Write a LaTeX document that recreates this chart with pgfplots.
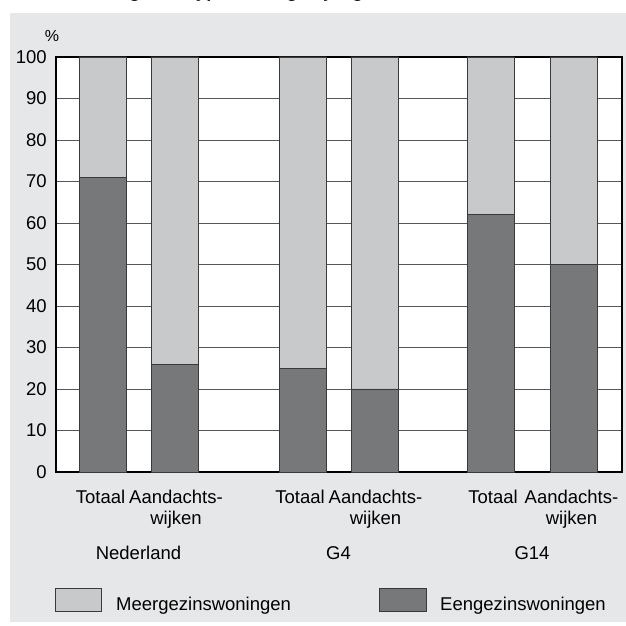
\documentclass[border=0pt]{standalone}
\usepackage{fontspec}
\setmainfont{Liberation Sans}
\usepackage{pgfplots}
\pgfplotsset{compat=1.18}
\definecolor{panel}{HTML}{E6E7E8}
\definecolor{licht}{HTML}{C8C9CB}
\definecolor{donker}{HTML}{77787A}
\definecolor{rand}{HTML}{3A3A3A}
\begin{document}
\fontsize{18.5bp}{21bp}\selectfont
\begin{tikzpicture}
\path[use as bounding box] (0bp,0bp) rectangle (626bp,626bp);
\fill[white] (0bp,0bp) rectangle (626bp,626bp);
\fill[panel] (10bp,4bp) rectangle (626bp,613bp);
% title, cut off at top of the picture
\begin{scope}
\clip (0bp,0bp) rectangle (626bp,626bp);
\node[anchor=base west,inner sep=0pt,font=\bfseries] at (57bp,628bp) {Verdeling naar type woning, bij regio};
\end{scope}
\begin{axis}[
    at={(56bp,154bp)}, anchor=south west,
    scale only axis, width=566bp, height=415bp,
    xmin=56, xmax=622, ymin=0, ymax=100,
    ybar stacked, bar width=47,
    ytick={0,10,...,100},
    % tick marks have zero length, positions only steer the labels
    xtick={100.5,176,300,375.5,493,571.5},
    xticklabels={Totaal,Aandachts-\\wijken,Totaal,Aandachts-\\wijken,Totaal,Aandachts-\\wijken},
    xticklabel style={align=center,anchor=north,yshift=-12bp,font=\fontsize{18.5bp}{21bp}\selectfont},
    yticklabel style={font=\fontsize{18.5bp}{21bp}\selectfont,xshift=-3bp},
    /pgf/number format/assume math mode=true,
    major tick length=0pt,
    ymajorgrids, grid style={rand!85,line width=0.9bp},
    axis line style={black,line width=1.2bp},
    axis background/.style={fill=white},
    clip=false,
    every axis plot/.append style={draw=rand,line width=0.8bp},
]
\addplot[fill=donker,draw=rand] coordinates {(102.5,71) (174.5,26) (302.5,25) (374.5,20) (490.5,62) (573.5,50)};
\addplot[fill=licht,draw=rand] coordinates {(102.5,29) (174.5,74) (302.5,75) (374.5,80) (490.5,38) (573.5,50)};
\node at (axis cs:138.5,0) [yshift=-81bp] {Nederland};
\node at (axis cs:338.5,0) [yshift=-81bp] {G4};
\node at (axis cs:532,0) [yshift=-81bp] {G14};
\node at (axis cs:52,100) [yshift=21bp,font=\fontsize{16bp}{18bp}\selectfont] {\%};
\end{axis}
% legend
\filldraw[fill=licht,draw=rand,line width=0.8bp] (55bp,15bp) rectangle (101bp,38bp);
\node[anchor=west,inner sep=0pt] at (116bp,20bp) {Meergezinswoningen};
\filldraw[fill=donker,draw=rand,line width=0.8bp] (379bp,15bp) rectangle (426bp,38bp);
\node[anchor=west,inner sep=0pt] at (440bp,20bp) {Eengezinswoningen};
\end{tikzpicture}
\end{document}
